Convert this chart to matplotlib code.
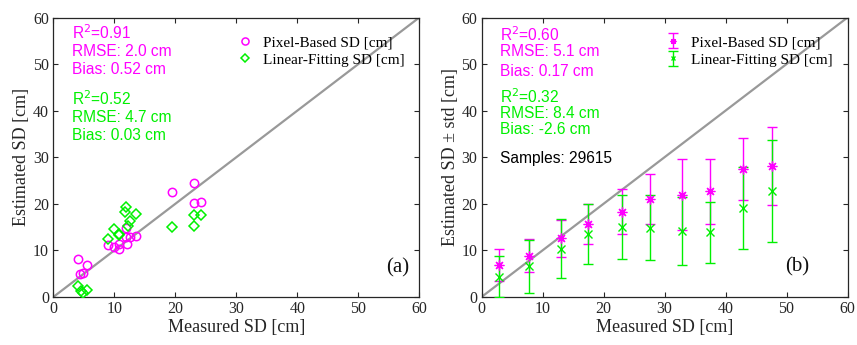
import matplotlib
matplotlib.use("Agg")
import matplotlib.pyplot as plt
import numpy as np

# ---- Panel (a) data ----
pix_meas = [4.1, 4.4, 4.9, 5.6, 8.9, 9.9, 10.8, 10.8, 12.1, 11.9, 12.6, 13.6, 11.9, 19.5, 23.1, 23.1, 24.2]
pix_est = [8.1, 4.9, 5.1, 6.8, 11.1, 10.8, 10.4, 11.4, 11.4, 12.9, 12.9, 13.1, 14.9, 22.6, 24.4, 20.2, 20.4]
lin_meas = [4.1, 4.5, 4.8, 5.6, 9.0, 10.0, 10.7, 10.8, 11.9, 11.8, 12.5, 12.2, 13.6, 19.5, 23.1, 24.2, 23.1]
lin_est = [2.4, 1.3, 0.8, 1.5, 12.4, 14.6, 13.4, 13.6, 19.4, 18.3, 16.3, 15.2, 17.9, 15.1, 17.6, 17.6, 15.2]

# ---- Panel (b) data ----
bin_meas = [2.8, 7.8, 13.0, 17.5, 23.0, 27.6, 32.8, 37.5, 42.9, 47.6]
pix_mean = [6.9, 8.9, 12.6, 15.7, 18.3, 21.0, 22.0, 22.7, 27.5, 28.1]
pix_std = [3.5, 3.6, 4.0, 4.3, 4.85, 5.3, 7.7, 7.0, 6.65, 8.3]
lin_mean = [4.3, 6.6, 10.4, 13.5, 14.95, 14.9, 14.2, 13.85, 19.1, 22.8]
lin_std = [4.4, 5.7, 6.4, 6.5, 6.85, 6.9, 7.3, 6.45, 8.75, 10.9]

labels = ["Pixel-Based SD [cm]", "Linear-Fitting SD [cm]"]
stats_a = [["R$^2$=0.91", "RMSE: 2.0 cm", "Bias: 0.52 cm"],
           ["R$^2$=0.52", "RMSE: 4.7 cm", "Bias: 0.03 cm"]]
stats_b = [["R$^2$=0.60", "RMSE: 5.1 cm", "Bias: 0.17 cm"],
           ["R$^2$=0.32", "RMSE: 8.4 cm", "Bias: -2.6 cm"]]
samples_text = "Samples: 29615"
ticks = [0, 10, 20, 30, 40, 50, 60]

MAG = "#ff00ff"
GRN = "#00f000"
SERIF = "Liberation Serif"
SANS = "Liberation Sans"

fig = plt.figure(figsize=(8.57, 3.45), dpi=100)
W, H = 857, 345
ax1 = fig.add_axes([53.3 / W, 1 - 297 / H, 366 / W, 279.5 / H])
ax2 = fig.add_axes([481.5 / W, 1 - 297 / H, 366 / W, 279.5 / H])

for ax in (ax1, ax2):
    ax.set_xlim(0, 60)
    ax.set_ylim(0, 60)
    ax.set_xticks(ticks)
    ax.set_yticks(ticks)
    ax.tick_params(direction="in", top=True, right=True, length=3.5, width=0.8,
                   color="#262626", labelsize=11.5, pad=3)
    for lab in ax.get_xticklabels() + ax.get_yticklabels():
        lab.set_family(SERIF)
        lab.set_color("#262626")
    for s in ax.spines.values():
        s.set_color("#262626")
        s.set_linewidth(0.9)
    ax.plot([0, 60], [0, 60], color="#999999", lw=1.6, zorder=1)
    ax.set_xlabel("Measured SD [cm]", family=SERIF, fontsize=13, color="#262626", labelpad=1)

ax1.set_ylabel("Estimated SD [cm]", family=SERIF, fontsize=13, color="#262626", labelpad=2)
ax2.set_ylabel("Estimated SD \u00b1 std [cm]", family=SERIF, fontsize=13, color="#262626", labelpad=2)

# Panel (a)
h1, = ax1.plot(pix_meas, pix_est, "o", mfc="none", mec=MAG, mew=1.1, ms=6, ls="none", label=labels[0], zorder=3)
h2, = ax1.plot(lin_meas, lin_est, "D", mfc="none", mec=GRN, mew=1.1, ms=5.2, ls="none", label=labels[1], zorder=3)
leg1 = ax1.legend(handles=[h1, h2], loc="upper left", bbox_to_anchor=(0.46, 0.985), frameon=False,
                  prop={"family": SERIF, "size": 11}, handlelength=1.2, handletextpad=0.6,
                  labelspacing=0.25, markerscale=0.85)

ys_a = [[33, 51, 70], [99, 117, 135]]
for block, col, ys in zip(stats_a, [MAG, GRN], ys_a):
    for txt, y in zip(block, ys):
        ax1.text((72 - 53.3) / 366, (297 - y) / 279.5, txt, transform=ax1.transAxes, color=col,
                 family=SANS, fontsize=11.2, va="center", ha="left")
ax1.text((398 - 53.3) / 366, (297 - 268) / 279.5, "(a)", transform=ax1.transAxes, family=SERIF,
         fontsize=15, ha="center", va="center", color="#111111")

# Panel (b)
e1 = ax2.errorbar(bin_meas, pix_mean, yerr=pix_std, fmt="none", color=MAG,
                  elinewidth=1.0, capsize=3.5, capthick=1.0, zorder=3)
m1, = ax2.plot(bin_meas, pix_mean, ls="none", marker=(8, 2, 0), color=MAG, ms=7, mew=0.9, zorder=5)
e2 = ax2.errorbar(bin_meas, lin_mean, yerr=lin_std, fmt="none", color=GRN,
                  elinewidth=1.0, capsize=3.5, capthick=1.0, zorder=4)
m2, = ax2.plot(bin_meas, lin_mean, ls="none", marker="x", color=GRN, ms=5.5, mew=1.0, zorder=5)
leg2 = ax2.legend(handles=[(e1, m1), (e2, m2)], labels=labels, loc="upper left",
                  bbox_to_anchor=(0.46, 0.985), frameon=False,
                  prop={"family": SERIF, "size": 11}, handlelength=1.2, handletextpad=0.6,
                  labelspacing=0.25, markerscale=0.6)

ys_b = [[35, 52, 71], [97, 113, 130]]
for block, col, ys in zip(stats_b, [MAG, GRN], ys_b):
    for txt, y in zip(block, ys):
        ax2.text((500 - 481.5) / 366, (297 - y) / 279.5, txt, transform=ax2.transAxes, color=col,
                 family=SANS, fontsize=11.2, va="center", ha="left")
ax2.text((500 - 481.5) / 366, (297 - 158) / 279.5, samples_text, transform=ax2.transAxes, color="black",
         family=SANS, fontsize=11.2, va="center", ha="left")
ax2.text((797 - 481.5) / 366, (297 - 267) / 279.5, "(b)", transform=ax2.transAxes, family=SERIF,
         fontsize=15, ha="center", va="center", color="#111111")

fig.savefig("out.png", dpi=100)
